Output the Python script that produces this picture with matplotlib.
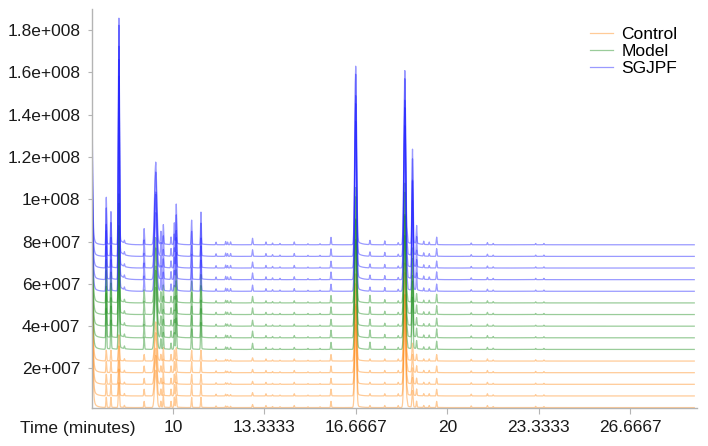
import matplotlib
matplotlib.use("agg")
import matplotlib.pyplot as plt
import numpy as np

plt.rcParams['font.family'] = ['Liberation Sans', 'DejaVu Sans']

# groups, 5 replicate traces each, stacked from the bottom
groups = ['Control', 'Model', 'SGJPF']
colors = ['#ff8c1a', '#1f8f1f', '#2020ff']
replicate_scale = [0.95, 1.03, 0.92, 1.02, 1.0]

# vertical offset of each of the 15 traces (x1e6)
trace_offsets = [1.5, 7.0, 12.5, 18.0, 23.5,
                 29.0, 34.5, 40.0, 45.5, 51.0,
                 56.5, 62.0, 67.5, 73.0, 78.5]

# solvent front height at the left edge (x1e6), per group
solvent_height = [110, 104, 92]

# retention times (min), peak widths (min), heights per group (x1e6)
peak_times = [7.57, 7.74, 8.03, 8.23, 8.95, 9.37, 9.56, 9.65, 9.93, 10.05,
              10.12, 10.68, 11.02, 11.57, 11.92, 11.99, 12.10, 12.90, 13.39, 13.63,
              13.90, 14.42, 14.92, 15.36, 15.76, 16.66, 17.18, 17.72, 18.21, 18.45,
              18.54, 18.73, 18.88, 19.14, 19.34, 19.61, 20.87, 21.46, 21.67, 23.22,
              23.52]
peak_widths = [0.014, 0.014, 0.02, 0.012, 0.014, 0.04, 0.014, 0.014, 0.012, 0.014,
               0.016, 0.014, 0.014, 0.012, 0.012, 0.012, 0.012, 0.014, 0.012, 0.012,
               0.012, 0.012, 0.012, 0.012, 0.014, 0.033, 0.014, 0.012, 0.012, 0.033,
               0.012, 0.02, 0.014, 0.012, 0.012, 0.014, 0.012, 0.012, 0.012, 0.012,
               0.012]
control_heights = [5, 5, 12, 1.0, 3, 18, 3, 6, 3, 5,
                   6, 5, 5, 0.8, 0.8, 0.6, 0.6, 1.5, 1.0, 0.5,
                   0.4, 1.0, 0.4, 0.4, 3, 40, 1, 1, 1, 45,
                   2, 8, 3, 1, 1, 3, 0.8, 1, 0.5, 0.6,
                   0.5]
model_heights = [20, 14, 50, 1.3, 6, 30, 5, 8, 3, 8,
                 15, 10, 13, 1.0, 1.2, 1.0, 1.0, 3.0, 1.0, 0.6,
                 0.5, 1.0, 0.5, 0.5, 3.4, 53, 3.5, 1.5, 1, 55,
                 2.5, 25, 4, 1.2, 1.2, 4, 0.8, 1, 0.6, 0.5,
                 0.5]
sgjpf_heights = [22, 15, 104, 1.3, 7.4, 38, 6, 9, 3.5, 10,
                 18.5, 11.4, 15, 1.2, 1.5, 1.2, 1.3, 3.0, 1.3, 0.8,
                 0.6, 1.3, 0.5, 0.5, 3.4, 82, 2, 1.8, 1, 80,
                 3, 43.6, 8.4, 1.5, 1.2, 3.5, 0.8, 1, 0.6, 0.6,
                 0.6]

xtick_pos = [10, 13.3333, 16.6667, 20, 23.3333, 26.6667]
xtick_labels = ['10', '13.3333', '16.6667', '20', '23.3333', '26.6667']
ytick_pos = [2e7, 4e7, 6e7, 8e7, 1e8, 1.2e8, 1.4e8, 1.6e8, 1.8e8]
ytick_labels = ['2e+007', '4e+007', '6e+007', '8e+007', '1e+008',
                '1.2e+008', '1.4e+008', '1.6e+008', '1.8e+008']

t = np.linspace(7.05, 29.0, 9000)


def chromatogram(heights, scale, solvent):
    y = solvent * (0.97 * np.exp(-(t - 7.05) / 0.022) + 0.03 * np.exp(-(t - 7.05) / 0.12))
    for t0, w, h in zip(peak_times, peak_widths, heights):
        h = h * scale
        y = y + h * np.exp(-0.5 * ((t - t0) / w) ** 2)
        tail = 0.03 * h * np.exp(-np.clip(t - t0, 0, None) / 0.15)
        y = y + np.where(t >= t0, tail, 0.0)
    return y


fig = plt.figure(figsize=(7.08, 4.46), dpi=100)
ax = fig.add_axes([92 / 708, 1 - 408 / 446, 605 / 708, 399 / 446])

all_heights = [control_heights, model_heights, sgjpf_heights]
k = 0
for g, name in enumerate(groups):
    for r in range(5):
        y = chromatogram(all_heights[g], replicate_scale[r], solvent_height[g])
        ax.plot(t, (y + trace_offsets[k]) * 1e6, color=colors[g], alpha=0.45, lw=0.9,
                label=name if r == 0 else None)
        k += 1

ax.set_xlim(7.05, 29.1)
ax.set_ylim(1.3e6, 1.9e8)
ax.set_xticks(xtick_pos)
ax.set_xticklabels(xtick_labels)
ax.set_yticks(ytick_pos)
ax.set_yticklabels(ytick_labels)

for s in ['top', 'right']:
    ax.spines[s].set_visible(False)
for s in ['left', 'bottom']:
    ax.spines[s].set_color('#b4b4b4')
    ax.spines[s].set_linewidth(1.0)
ax.tick_params(axis='x', length=4, pad=5, color='#b4b4b4', labelsize=12.5, labelcolor='#1a1a1a')
ax.tick_params(axis='y', length=3, pad=5.5, color='#b4b4b4', labelsize=12.5, labelcolor='#1a1a1a')

fig.text(20 / 708, 1 - 428 / 446, 'Time (minutes)', ha='left', va='center',
         fontsize=12.5, color='#1a1a1a')

ax.legend(loc='upper left', bbox_to_anchor=(590 / 708, 1 - 27 / 446),
          bbox_transform=fig.transFigure, frameon=False, fontsize=12.5,
          handlelength=1.3, handletextpad=0.5, labelspacing=0.1,
          borderpad=0, borderaxespad=0)

fig.savefig('out.png', dpi=100)
